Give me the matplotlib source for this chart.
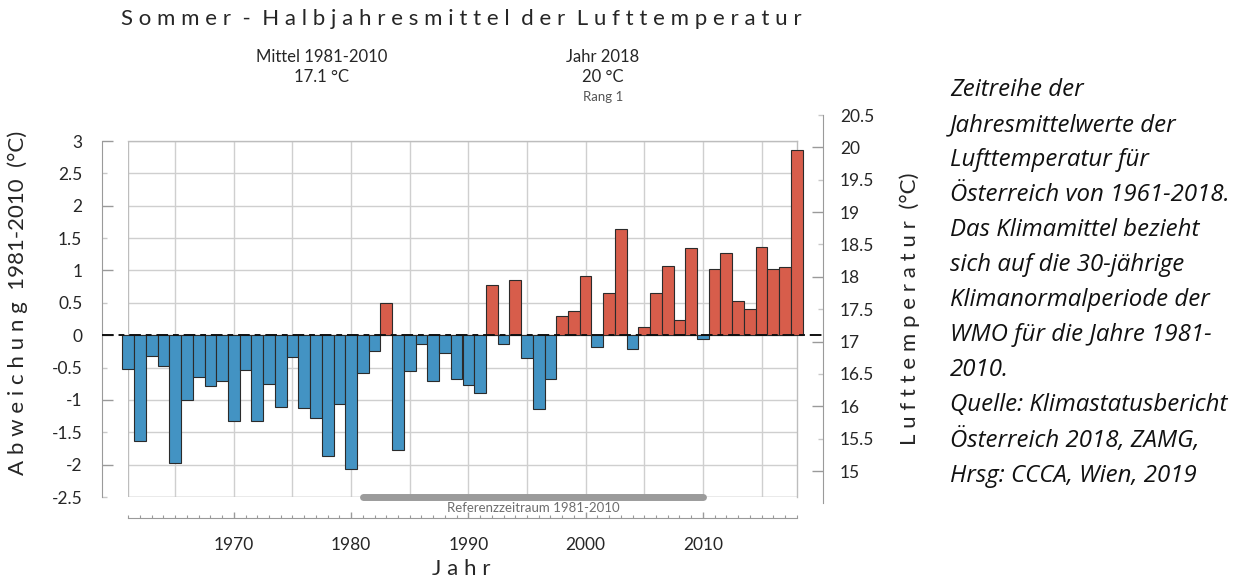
import matplotlib
matplotlib.use("Agg")
import matplotlib.pyplot as plt
import matplotlib.transforms as mtransforms
from matplotlib.ticker import MultipleLocator, FixedLocator, FuncFormatter, NullFormatter
import numpy as np

# ---------------- data ----------------
years = list(range(1961, 2019))
anomalies = [
    -0.53, -1.64, -0.32, -0.47, -1.98, -1.00, -0.65, -0.79, -0.71, -1.32,
    -0.54, -1.33, -0.75, -1.11, -0.34, -1.13, -1.28, -1.87, -1.06, -2.07,
    -0.59, -0.24, 0.50, -1.78, -0.56, -0.13, -0.71, -0.28, -0.67, -0.77,
    -0.90, 0.78, -0.14, 0.85, -0.36, -1.14, -0.68, 0.29, 0.38, 0.91,
    -0.18, 0.65, 1.64, -0.21, 0.13, 0.65, 1.07, 0.23, 1.34, -0.06,
    1.03, 1.27, 0.53, 0.40, 1.37, 1.03, 1.05, 2.86,
]
ref_period = (1981, 2010)
mean_temp = 17.1
title_text = "S o m m e r  -  H a l b j a h r e s m i t t e l  d e r  L u f t t e m p e r a t u r"
ylabel_left = "A b w e i c h u n g  1981-2010  (°C)"
ylabel_right = "L u f t t e m p e r a t u r  (°C)"
xlabel = "J a h r"
header_left = "Mittel 1981-2010\n17.1 °C"
header_right = "Jahr 2018\n20 °C"
header_rank = "Rang 1"
ref_label = "Referenzzeitraum 1981-2010"
side_text = ("Zeitreihe der\nJahresmittelwerte der\nLufttemperatur für\n"
             "Österreich von 1961-2018.\nDas Klimamittel bezieht\n"
             "sich auf die 30-jährige\nKlimanormalperiode der\n"
             "WMO für die Jahre 1981-\n2010.\nQuelle: Klimastatusbericht\n"
             "Österreich 2018, ZAMG,\nHrsg: CCCA, Wien, 2019")

# ---------------- style ----------------
W, H = 1241, 580
plt.rcParams['font.family'] = ['Lato', 'DejaVu Sans']
BLUE = "#4393C3"
RED = "#D75D4B"
EDGE = "#2b2b2b"
GRID = "#cfcfcf"
AXC = "#9a9a9a"
TXT = "#262626"

fig = plt.figure(figsize=(W / 100, H / 100), dpi=100)

def fx(px):
    return px / W

def fy(py):
    return 1 - py / H

# main plot area (pixel box)
L, R, T, B = 128.3, 796.7, 141.0, 497.0
ax = fig.add_axes([fx(L), fy(B), fx(R - L), (B - T) / H])
ax.set_xlim(years[0], years[-1])
ax.set_ylim(-2.5, 3.0)

colors = [RED if v > 0 else BLUE for v in anomalies]
ax.bar(years, anomalies, width=1.0, color=colors, edgecolor=EDGE,
       linewidth=0.8, clip_on=False, zorder=3)

# grid
ax.set_axisbelow(True)
for yv in np.arange(-2.5, 3.01, 0.5):
    ax.axhline(yv, color=GRID, lw=1.0, zorder=0)
for xv in range(1965, 2018, 5):
    ax.axvline(xv, color=GRID, lw=1.0, zorder=0)
ax.axvline(years[0], color="#bdbdbd", lw=1.0, zorder=1)
ax.axhline(-2.5, color="#bdbdbd", lw=1.0, zorder=1)

for s in ("top", "right"):
    ax.spines[s].set_color("#bdbdbd")
    ax.spines[s].set_linewidth(1.0)

# left axis (outward)
ax.spines["left"].set_position(("outward", (L - 101.7) * 0.72))
ax.spines["left"].set_color(AXC)
ax.yaxis.set_major_locator(MultipleLocator(1.0))
ax.yaxis.set_minor_locator(FixedLocator(np.arange(-2.5, 3.01, 1.0)))
fmt = FuncFormatter(lambda v, p: f"{v:g}")
ax.yaxis.set_major_formatter(fmt)
ax.yaxis.set_minor_formatter(fmt)
ax.tick_params(axis="y", which="major", direction="in", length=8, width=1,
               color=AXC, labelsize=12.5, labelcolor=TXT, pad=14)
ax.tick_params(axis="y", which="minor", direction="in", length=3.5, width=1,
               color="#c8c8c8", labelsize=12.5, labelcolor=TXT, pad=14)

# bottom axis (outward)
ax.spines["bottom"].set_position(("outward", (517.7 - B) * 0.72))
ax.spines["bottom"].set_color(AXC)
ax.xaxis.set_major_locator(FixedLocator([1970, 1980, 1990, 2000, 2010]))
ax.xaxis.set_minor_locator(MultipleLocator(1))
ax.xaxis.set_major_formatter(FuncFormatter(lambda v, p: f"{int(v)}"))
ax.xaxis.set_minor_formatter(NullFormatter())
ax.tick_params(axis="x", which="major", direction="in", length=4, width=1,
               color=AXC, labelsize=12.5, labelcolor=TXT, pad=14)
ax.tick_params(axis="x", which="minor", direction="in", length=2, width=0.8,
               color=AXC)

# reference period bar
ax.plot(ref_period, [-2.5, -2.5], color="#9b9b9b", lw=5, solid_capstyle="round",
        clip_on=False, zorder=4)
off = mtransforms.offset_copy(ax.transData, fig=fig, y=-3.5, units="points")
ax.text(sum(ref_period) / 2, -2.5, ref_label, ha="center", va="top",
        fontsize=9.5, color="#6e6e6e", transform=off)

# right axis (temperature)
RT, RB = 115.0, 503.4
axr = fig.add_axes([fx(R), fy(RB), fx(823.3 - R), (RB - RT) / H])
axr.patch.set_visible(False)
for s in ("top", "left", "bottom"):
    axr.spines[s].set_visible(False)
axr.spines["right"].set_color(AXC)
axr.set_xticks([])
axr.set_ylim(14.5, 20.5)
axr.yaxis.tick_right()
axr.yaxis.set_major_locator(MultipleLocator(1.0))
axr.yaxis.set_minor_locator(FixedLocator(np.arange(15.5, 20.51, 1.0)))
axr.yaxis.set_major_formatter(fmt)
axr.yaxis.set_minor_formatter(fmt)
axr.tick_params(axis="y", which="major", direction="in", length=8, width=1,
                color=AXC, labelsize=12.5, labelcolor=TXT, pad=12)
axr.tick_params(axis="y", which="minor", direction="in", length=3.5, width=1,
                color="#c8c8c8", labelsize=12.5, labelcolor=TXT, pad=12)

# zero dashed line from left spine to right spine
trans = mtransforms.blended_transform_factory(fig.transFigure, ax.transData)
ax.plot([fx(101.7), fx(823.3)], [0, 0], transform=trans, color="#111111",
        lw=1.4, dashes=(6, 2.5, 3, 2.5), clip_on=False, zorder=5)

# texts
fig.text(fx(461), fy(19), title_text, ha="center", va="center",
         fontsize=16, color=TXT)
fig.text(fx(322), fy(67), header_left, ha="center", va="center",
         fontsize=12, color=TXT, linespacing=1.3)
fig.text(fx(603), fy(67), header_right, ha="center", va="center",
         fontsize=12, color=TXT, linespacing=1.3)
fig.text(fx(603), fy(97), header_rank, ha="center", va="center",
         fontsize=9.5, color="#555555")
fig.text(fx(18), fy(303), ylabel_left, ha="center", va="center",
         rotation=90, fontsize=16, color=TXT)
fig.text(fx(910), fy(309), ylabel_right, ha="center", va="center",
         rotation=90, fontsize=16, color=TXT)
fig.text(fx(461), fy(569), xlabel, ha="center", va="center",
         fontsize=16, color=TXT)
fig.text(fx(950), fy(78), side_text, ha="left", va="top",
         fontsize=17.3, style="italic", color="#111111", linespacing=1.61,
         family=["Open Sans", "DejaVu Sans"])

fig.savefig("out.png", dpi=100)
